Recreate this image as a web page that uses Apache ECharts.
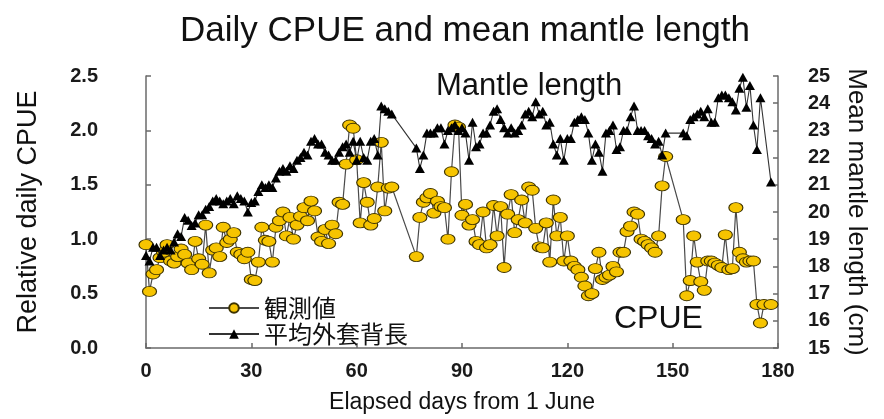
<!DOCTYPE html>
<html><head><meta charset="utf-8">
<script src="https://cdn.jsdelivr.net/npm/echarts@6/dist/echarts.min.js"></script>
<style>html,body{margin:0;padding:0;background:#fff}#c{width:884px;height:419px}</style>
</head><body><div id="c"></div>
<script>
const days = [
  0,1,2,3,4,5,6,7,8,9,10,11,12,13,14,15,16,17,18,19,20,21,22,23,24,25,26,27,28,29,
  30,31,32,33,34,35,36,37,38,39,40,41,42,43,44,45,46,47,48,49,50,51,52,53,54,55,56,57,58,59,
  60,61,62,63,64,65,66,67,68,69,70,
  77,78,79,80,81,82,83,84,85,86,87,88,89,90,91,92,93,94,95,96,97,98,99,100,101,102,103,104,105,106,
  107,108,109,110,111,112,113,114,115,116,117,118,119,120,121,122,123,124,125,126,127,128,129,130,131,132,133,134,135,136,
  137,138,139,140,141,142,143,144,145,146,147,148,
  153,154,155,156,157,158,159,160,161,162,163,164,165,166,167,168,169,170,171,172,173,174,175,176,178
];
const cpue = [
  0.95,0.52,0.68,0.72,0.83,0.88,0.95,0.80,0.78,0.84,
  0.91,0.86,0.78,0.72,0.98,0.82,0.77,1.13,0.69,0.90,
  0.92,0.84,1.11,0.97,1.00,1.06,0.88,0.86,0.82,0.88,
  0.63,0.62,0.79,1.11,0.99,0.98,0.79,1.11,1.17,1.25,
  1.03,1.20,1.00,1.13,1.21,1.29,1.17,1.35,1.26,1.02,
  0.98,1.09,0.96,1.13,1.05,1.34,1.32,1.69,2.05,2.02,
  1.73,1.15,1.52,1.34,1.13,1.19,1.48,1.89,1.26,1.47,
  1.48,
  0.84,1.20,1.34,1.38,1.42,1.24,1.35,1.30,1.29,1.00,
  1.62,2.05,2.03,1.22,1.32,1.13,1.18,0.98,0.95,1.25,
  0.92,0.95,1.31,1.03,1.30,0.74,1.23,1.41,1.06,1.18,
  1.36,1.15,1.48,1.45,1.10,0.93,0.92,1.15,0.79,1.36,
  1.03,1.20,0.80,1.03,0.80,0.75,0.72,0.65,0.57,0.48,
  0.50,0.73,0.88,0.63,0.65,0.67,0.75,0.70,0.88,0.88,
  1.07,1.12,1.25,1.23,1.00,0.98,0.95,0.92,0.88,1.03,
  1.49,1.76,
  1.18,0.48,0.62,1.03,0.79,0.61,0.53,0.80,0.80,0.78,
  0.76,0.74,1.04,0.72,0.73,1.29,0.88,0.82,0.79,0.80,
  0.80,0.40,0.23,0.40,0.40
];
const mantle = [
  18.4,18.2,18.7,18.7,18.4,18.6,18.7,18.6,18.9,19.2,
  19.1,19.8,19.7,19.5,19.6,19.9,19.9,20.1,20.2,20.4,
  20.5,20.4,20.3,20.4,20.5,20.3,20.6,20.5,20.4,20.0,
  20.35,20.4,20.75,21.0,20.9,21.0,20.9,21.25,21.5,21.6,
  21.5,21.7,21.6,21.9,22.0,22.2,22.1,22.6,22.7,22.5,
  22.5,22.2,22.1,21.9,21.9,22.2,22.4,22.5,22.2,22.6,
  21.9,22.6,22.0,21.9,22.6,22.7,22.1,23.9,23.8,23.7,
  23.6,
  22.35,21.6,22.1,22.9,22.9,22.9,23.1,23.1,22.5,23.0,
  23.1,23.2,23.0,23.1,22.9,21.9,23.3,22.4,22.5,22.9,
  22.9,23.2,23.7,23.8,23.4,23.1,22.9,23.1,22.9,23.0,
  23.2,23.6,23.7,23.5,24.05,23.6,23.7,23.2,23.3,22.5,
  22.1,22.7,21.9,22.7,22.7,23.3,23.4,23.5,23.4,22.9,
  21.9,22.5,22.2,21.5,22.9,23.0,23.2,22.3,22.4,23.0,
  23.0,23.5,23.9,23.0,23.0,23.0,22.8,22.7,22.5,22.6,
  22.1,22.9,
  22.9,22.8,23.4,23.5,23.6,23.7,23.5,23.8,23.3,23.3,
  24.2,24.3,24.3,24.2,24.05,23.75,24.55,24.95,23.85,24.65,
  23.2,22.3,24.2,null,21.1
];
const seriesNames = ['観測値', '平均外套背長'];
const titleText = 'Daily CPUE and mean mantle length';
const xName = 'Elapsed days from 1 June';
const yLeftName = 'Relative daily CPUE';
const yRightName = 'Mean mantle length (cm)';
const notes = ['Mantle length', 'CPUE'];

const FONT = 'Liberation Sans, Arial, sans-serif';
const axisLineStyle = { color: '#6a6a6a', width: 1.5 };
const tickLabel = { color: '#1a1a1a', fontSize: 20, fontWeight: 'bold', fontFamily: FONT };

const chart = echarts.init(document.getElementById('c'), null, { renderer: 'canvas' });
chart.setOption({
  animation: false,
  backgroundColor: '#ffffff',
  title: {
    text: titleText, left: 460, top: 9, textAlign: 'center',
    textStyle: { fontSize: 35, fontWeight: 'normal', color: '#111', fontFamily: FONT }
  },
  grid: { left: 146, right: 106, top: 76, bottom: 70 },
  legend: {
    data: seriesNames, orient: 'vertical', left: 203, top: 291,
    itemWidth: 50, itemHeight: 12, itemGap: 2,
    textStyle: { fontSize: 24, color: '#111', fontFamily: 'Noto Sans CJK JP' }
  },
  graphic: [
    { type: 'text', left: 436, top: 71, style: { text: notes[0], fontSize: 31, fill: '#111', fontFamily: FONT } },
    { type: 'text', left: 614, top: 303, style: { text: notes[1], fontSize: 32, fill: '#111', fontFamily: FONT } }
  ],
  xAxis: {
    type: 'value', min: 0, max: 180, interval: 30,
    axisLine: { show: true, lineStyle: axisLineStyle },
    axisTick: { show: true, inside: true, length: 5, lineStyle: axisLineStyle },
    axisLabel: Object.assign({ margin: 13 }, tickLabel),
    splitLine: { show: false },
    name: xName, nameLocation: 'middle', nameGap: 43,
    nameTextStyle: { fontSize: 23, color: '#111', fontFamily: FONT }
  },
  yAxis: [
    {
      type: 'value', min: 0, max: 2.5, interval: 0.5, position: 'left',
      axisLine: { show: true, lineStyle: axisLineStyle },
      axisTick: { show: true, inside: true, length: 5, lineStyle: axisLineStyle },
      axisLabel: Object.assign({ margin: 48, formatter: v => v.toFixed(1) }, tickLabel),
      splitLine: { show: false },
      name: yLeftName, nameLocation: 'middle', nameGap: 104, nameRotate: 90,
      nameTextStyle: { fontSize: 27, color: '#111', fontFamily: FONT }
    },
    {
      type: 'value', min: 15, max: 25, interval: 1, position: 'right',
      axisLine: { show: true, lineStyle: axisLineStyle },
      axisTick: { show: true, inside: true, length: 5, lineStyle: axisLineStyle },
      axisLabel: Object.assign({ margin: 30 }, tickLabel),
      splitLine: { show: false },
      name: yRightName, nameLocation: 'middle', nameGap: 65, nameRotate: -90,
      nameTextStyle: { fontSize: 26, color: '#111', fontFamily: FONT }
    }
  ],
  series: [
    {
      name: seriesNames[0], type: 'line', yAxisIndex: 0,
      data: days.map((d, i) => [d, cpue[i]]),
      symbol: 'circle', symbolSize: [14, 10], showAllSymbol: true,
      itemStyle: { color: '#F6C400', borderColor: '#3d3300', borderWidth: 1 },
      lineStyle: { color: '#4a4a4a', width: 1.2 },
      z: 2
    },
    {
      name: seriesNames[1], type: 'line', yAxisIndex: 1, connectNulls: true,
      data: days.map((d, i) => [d, mantle[i]]),
      symbol: 'triangle', symbolSize: [10, 9], showAllSymbol: true,
      itemStyle: { color: '#000000' },
      lineStyle: { color: '#333333', width: 1.1 },
      z: 3
    }
  ]
});
</script>
</body></html>
